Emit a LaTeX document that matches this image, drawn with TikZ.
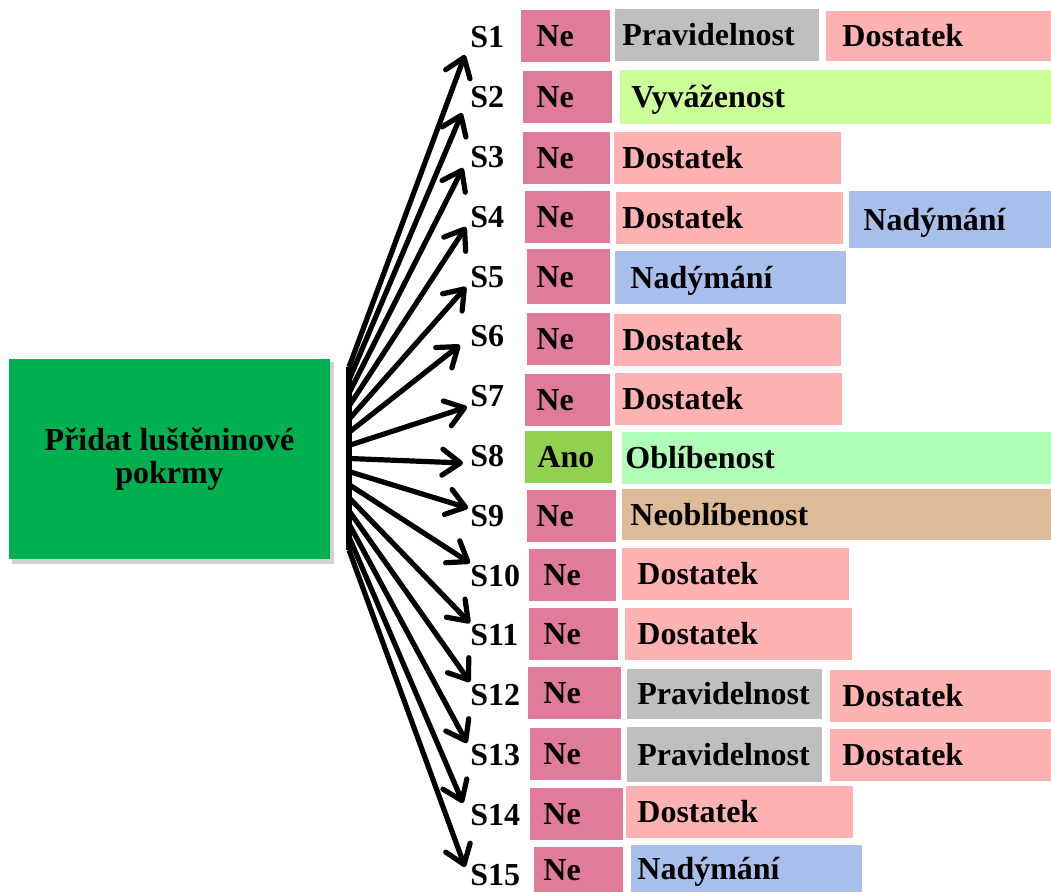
\documentclass[tikz,border=0pt]{standalone}
\usepackage{fontspec}
\setmainfont{Liberation Serif}
\usetikzlibrary{arrows.meta}
\definecolor{mainG}{HTML}{00B050}
\definecolor{neC}{HTML}{E07B9A}
\definecolor{anoC}{HTML}{92D050}
\definecolor{grayC}{HTML}{BFBFBF}
\definecolor{dostC}{HTML}{FFB2B2}
\definecolor{vyvC}{HTML}{CCFF99}
\definecolor{nadC}{HTML}{A9BFEB}
\definecolor{oblC}{HTML}{B0FDB8}
\definecolor{neoC}{HTML}{DDBA98}
\newcommand\cellbox[8]{%
  \fill[#6] (#2,#3) rectangle (#4,#5);
  \node[txt] (#1) at (#7,{(#3+#5)/2+11}) {#8};}
\begin{document}
\begin{tikzpicture}[x=0.5pt,y=-0.5pt,
  txt/.style={anchor=base west,inner sep=0pt,font=\bfseries\fontsize{16}{16.5}\selectfont},
  mainbox/.style={fill=mainG,minimum width=160.5pt,minimum height=100pt,align=center,inner sep=0pt,
    font=\bfseries\fontsize{16}{16.5}\selectfont},
  arr/.style={line width=2.6pt,-{Straight Barb[length=9pt,width=13pt,round]}},
]
\useasboundingbox (0,0) rectangle (1051,892);
% main box with shadow
\fill[black!18] (12,362) rectangle (334,564);
\node[mainbox] (main) at (169.5,459.5) {Přidat luštěninové\\pokrmy};
% stem
\coordinate (stemtop) at (349,367);
\coordinate (stembot) at (349,550);
\draw[line width=2.8pt] (stemtop) -- (stembot);
% labels
\foreach \i in {1,...,15}{
  \node[txt] (s\i) at (470,{37+(\i-1)*59.8+11}) {S\i};
}
% arrows
\foreach \i/\tx/\ty in {1/465/55,2/462/113,3/463/168,4/466/227,5/466/287,6/460/345,7/467/407,8/463/463,9/468/508,10/470/563,11/470/623,12/470/682,13/467/743,14/463/803,15/465/867}{
  \coordinate (o\i) at (349,{367+(\i-1)*13.07});
  \coordinate (t\i) at (\tx,\ty);
  \draw[arr] (o\i) -- (t\i);
}
% row 1
\cellbox{r1a}{521}{10}{610}{62}{neC}{536}{Ne}
\cellbox{r1b}{615}{9}{819}{61}{grayC}{622}{Pravidelnost}
\cellbox{r1c}{826}{11}{1051}{61}{dostC}{842}{Dostatek}
% row 2
\cellbox{r2a}{523}{71}{612}{123}{neC}{536}{Ne}
\cellbox{r2b}{620}{70}{1051}{124}{vyvC}{631}{Vyváženost}
% row 3
\cellbox{r3a}{523}{132}{610}{184}{neC}{536}{Ne}
\cellbox{r3b}{614}{132}{841}{184}{dostC}{622}{Dostatek}
% row 4
\cellbox{r4a}{525}{191}{610}{243}{neC}{536}{Ne}
\cellbox{r4b}{616}{192}{843}{244}{dostC}{622}{Dostatek}
\cellbox{r4c}{849}{191}{1051}{248}{nadC}{863}{Nadýmání}
% row 5
\cellbox{r5a}{527}{249}{610}{304}{neC}{536}{Ne}
\cellbox{r5b}{615}{251}{846}{304}{nadC}{630}{Nadýmání}
% row 6
\cellbox{r6a}{527}{313}{610}{365}{neC}{536}{Ne}
\cellbox{r6b}{614}{314}{841}{366}{dostC}{622}{Dostatek}
% row 7
\cellbox{r7a}{525}{374}{610}{426}{neC}{536}{Ne}
\cellbox{r7b}{615}{373}{842}{425}{dostC}{622}{Dostatek}
% row 8
\cellbox{r8a}{525}{431}{612}{483}{anoC}{537}{Ano}
\cellbox{r8b}{622}{432}{1051}{484}{oblC}{625}{Oblíbenost}
% row 9
\cellbox{r9a}{527}{490}{616}{542}{neC}{536}{Ne}
\cellbox{r9b}{622}{489}{1051}{540}{neoC}{630}{Neoblíbenost}
% row 10
\cellbox{r10a}{529}{549}{616}{601}{neC}{543}{Ne}
\cellbox{r10b}{622}{548}{849}{600}{dostC}{637}{Dostatek}
% row 11
\cellbox{r11a}{529}{608}{618}{660}{neC}{543}{Ne}
\cellbox{r11b}{625}{608}{852}{660}{dostC}{637}{Dostatek}
% row 12
\cellbox{r12a}{528}{667}{621}{719}{neC}{543}{Ne}
\cellbox{r12b}{627}{669}{822}{719}{grayC}{637}{Pravidelnost}
\cellbox{r12c}{830}{670}{1051}{722}{dostC}{842}{Dostatek}
% row 13
\cellbox{r13a}{530}{728}{621}{780}{neC}{543}{Ne}
\cellbox{r13b}{627}{727}{822}{782}{grayC}{637}{Pravidelnost}
\cellbox{r13c}{830}{729}{1051}{781}{dostC}{842}{Dostatek}
% row 14
\cellbox{r14a}{530}{788}{623}{840}{neC}{543}{Ne}
\cellbox{r14b}{626}{786}{853}{838}{dostC}{637}{Dostatek}
% row 15
\cellbox{r15a}{534}{847}{623}{892}{neC}{543}{Ne}
\cellbox{r15b}{631}{845}{862}{892}{nadC}{637}{Nadýmání}
\end{tikzpicture}
\end{document}
